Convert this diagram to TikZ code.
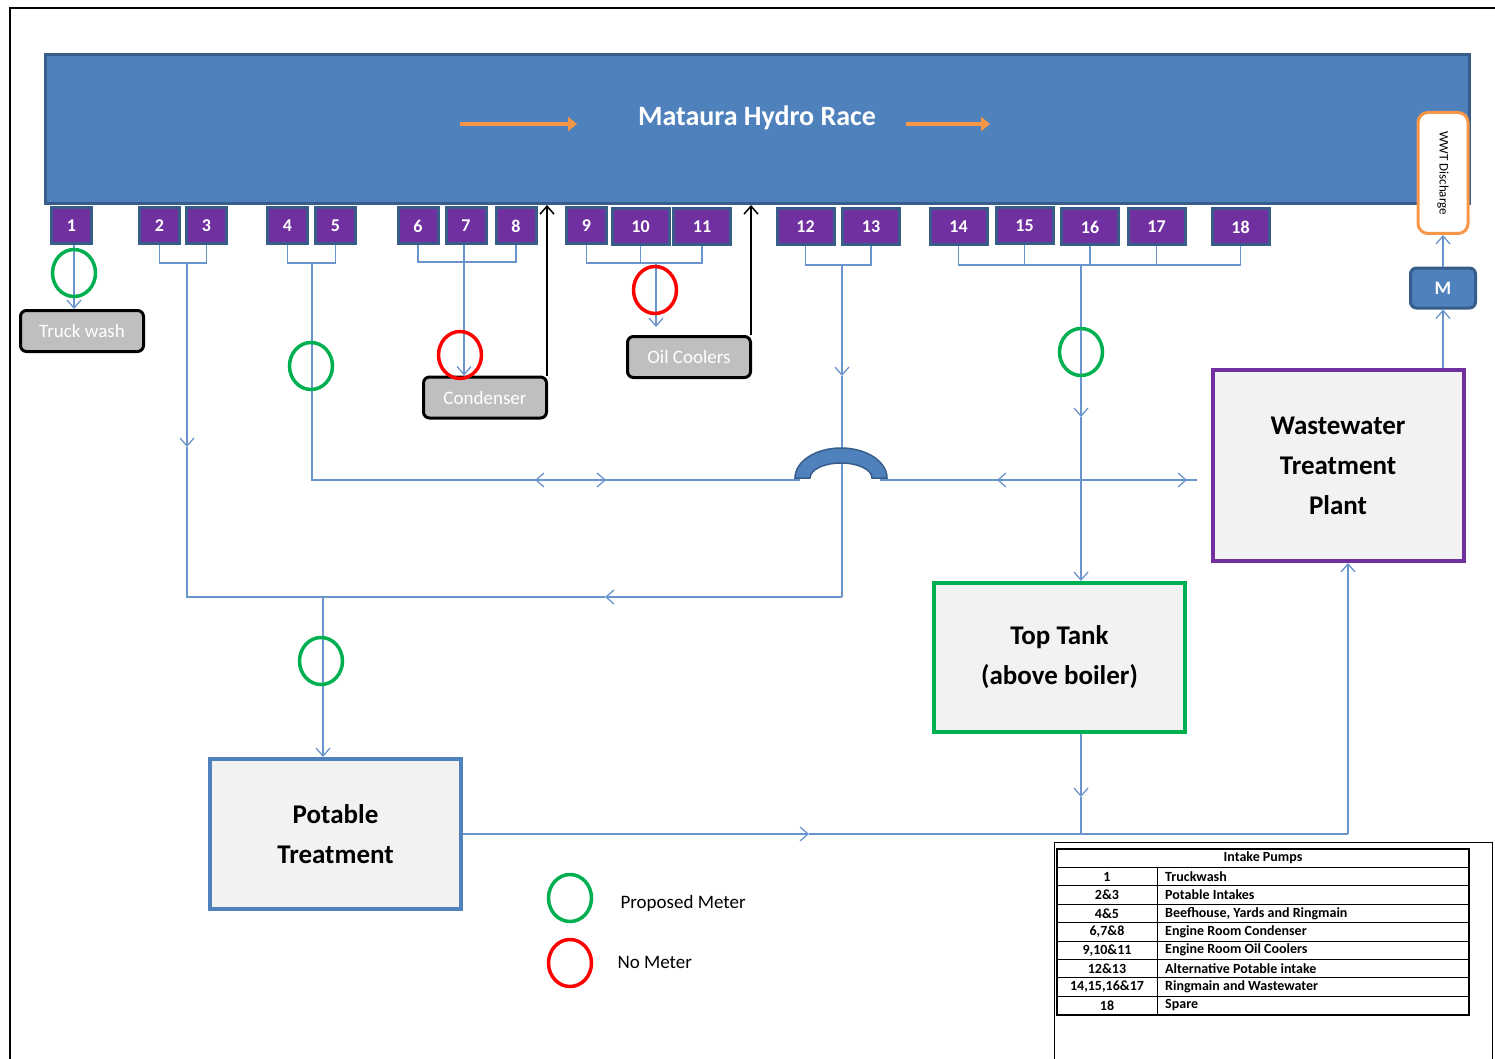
\documentclass[tikz,border=0pt]{standalone}
\usepackage{fontspec}
\setmainfont{Carlito}
\usetikzlibrary{arrows.meta,positioning,shapes.geometric}

\definecolor{raceblue}{HTML}{4F81BD}
\definecolor{racedark}{HTML}{385D8A}
\definecolor{pumppurple}{HTML}{7030A0}
\definecolor{metergreen}{HTML}{00B050}
\definecolor{meterred}{HTML}{FF0000}
\definecolor{raceorange}{HTML}{F79646}
\definecolor{unitgrey}{HTML}{BFBFBF}
\definecolor{plantfill}{HTML}{F2F2F2}
\definecolor{pipeblue}{HTML}{6A95CC}

\tikzset{
  pump/.style={fill=pumppurple,draw=racedark,line width=3pt,minimum width=40pt,minimum height=36pt,inner sep=0pt,text=white,font=\fontsize{18}{18}\selectfont\bfseries},
  widepump/.style={pump,minimum width=57pt},
  pipe/.style={draw=pipeblue,line width=1.3pt},
  ret/.style={draw=black,line width=1.5pt},
  meter/.style={draw=#1,line width=3.5pt,shape=ellipse,minimum width=43pt,minimum height=47pt,inner sep=0pt},
  unit/.style={fill=unitgrey,draw=black,line width=3pt,rounded corners=6pt,minimum width=123pt,minimum height=41pt,text=white,font=\fontsize{19}{19}\selectfont},
  plant/.style={fill=plantfill,draw=#1,line width=4pt,minimum width=251pt,align=center,font=\fontsize{27}{40}\selectfont\bfseries},
  flow/.style={draw=raceorange,line width=4pt,-{Triangle[length=9pt,width=14pt]}},
  cell/.style={font=\fontsize{14}{14}\selectfont\bfseries,inner sep=0pt}
}

\begin{document}
\begin{tikzpicture}[x=1pt,y=-1pt,>={Straight Barb[length=8pt,width=14pt]}]
\useasboundingbox (0,0) rectangle (1495,1059);
\draw[line width=2pt] (10,1059) -- (10,8) -- (1495,8);

% the race
\node[fill=raceblue,draw=racedark,line width=3pt,minimum width=1424pt,minimum height=149pt,inner sep=0pt](race) at (757.5,129){};
\node[text=white,font=\fontsize{28}{28}\selectfont\bfseries](title) at (757,118){Mataura Hydro Race};
\coordinate (f1) at (460,124);
\coordinate (f2) at (577,124);
\coordinate (f3) at (906,124);
\coordinate (f4) at (990,124);
\draw[flow] (f1) -- (f2);
\draw[flow] (f3) -- (f4);

% intake pumps
\node[pump](p1) at (71.5,226){1};
\node[pump](p2) at (159.5,226){2};
\node[pump](p3) at (206.5,226){3};
\node[pump](p4) at (287.5,226){4};
\node[pump](p5) at (335.5,226){5};
\node[pump](p6) at (418,226){6};
\node[pump](p7) at (466,226){7};
\node[pump](p8) at (516,226){8};
\node[pump](p9) at (586.5,226){9};
\node[widepump](p10) at (640.5,227){10};
\node[widepump](p11) at (702,227){11};
\node[widepump](p12) at (805.5,227){12};
\node[widepump](p13) at (871,227){13};
\node[widepump](p14) at (958.5,227){14};
\node[widepump](p15) at (1024.5,226){15};
\node[widepump](p16) at (1090,227){16};
\node[widepump](p17) at (1156.5,227){17};
\node[widepump](p18) at (1240.5,227){18};

% users
\node[unit](truck) at (82,331){Truck wash};
\node[unit](cond) at (485,397.5){Condenser};
\node[unit](oil) at (689,357){Oil Coolers};
\node[plant=pumppurple,minimum height=191pt](wwtp) at (1338,465.5){Wastewater\\Treatment\\Plant};
\node[plant=metergreen,minimum height=149pt](tank) at (1059.5,657.5){Top Tank\\(above boiler)};
\node[plant=raceblue,minimum height=150pt](potable) at (335.5,834){Potable\\Treatment};
\node[fill=raceblue,draw=racedark,line width=3pt,rounded corners=6pt,minimum width=65pt,minimum height=40pt,text=white,font=\fontsize{19}{19}\selectfont\bfseries](mbox) at (1443,288){M};
\node[fill=white,draw=raceorange,line width=3pt,rounded corners=10pt,minimum width=50pt,minimum height=121pt](wwt) at (1443,173){};
\node[rotate=-90,font=\fontsize{13}{13}\selectfont](wwtlabel) at (wwt){WWT Discharge};

% junctions
\coordinate (j1) at (74,245);
\coordinate (j23) at (187,263);
\coordinate (a23) at (187,447);
\coordinate (c23) at (187,597);
\coordinate (jpot) at (323,597);
\coordinate (a597) at (605,597);
\coordinate (j45) at (312,263);
\coordinate (c45) at (312,480);
\coordinate (b1) at (800,480);
\coordinate (b2) at (880,480);
\coordinate (e45) at (1197,480);
\coordinate (d1) at (535,480);
\coordinate (d2) at (606,480);
\coordinate (d3) at (997,480);
\coordinate (d4) at (1187,480);
\coordinate (j678) at (464,262);
\coordinate (j911) at (656,263);
\coordinate (a911) at (656,327);
\coordinate (j1213) at (842,265);
\coordinate (a1213) at (842,376);
\coordinate (c1213) at (842,597);
\coordinate (j1418) at (1081,265);
\coordinate (a1418) at (1081,417);
\coordinate (atank) at (1081,797);
\coordinate (jtank) at (1081,834);
\coordinate (apot) at (809,834);
\coordinate (cwwtp) at (1348,834);

% pipework
\draw[pipe,->] (j1) -- (j1 |- truck.north);
\draw[pipe] (p2.south) |- (j23) -| (p3.south);
\draw[pipe,->] (j23) -- (a23);
\draw[pipe] (a23) -- (c23) -- (jpot);
\draw[pipe,->] (c1213) -- (a597);
\draw[pipe] (a597) -- (jpot);
\draw[pipe,->] (jpot) -- (jpot |- potable.north);
\draw[pipe] (p4.south) |- (j45) -| (p5.south);
\draw[pipe] (j45) -- (c45) -- (b1);
\draw[pipe] (b2) -- (e45);
\draw[pipe,<->] (d1) -- (d2);
\draw[pipe,<->] (d3) -- (d4);
\draw[pipe] (p6.south) |- (j678) -| (p8.south);
\draw[pipe,->] (j678 |- p7.south) -- (j678 |- cond.north);
\draw[pipe] (p9.south) |- (j911) -| (p11.south);
\draw[pipe] (p10.south) -- (p10.south |- j911);
\draw[pipe,->] (j911) -- (a911);
\draw[pipe] (p12.south) |- (j1213) -| (p13.south);
\draw[pipe,->] (j1213) -- (a1213);
\draw[pipe] (a1213) -- (c1213);
\draw[pipe] (p14.south) |- (j1418) -| (p18.south);
\draw[pipe] (p15.south) -- (p15.south |- j1418);
\draw[pipe] (p16.south) -- (p16.south |- j1418);
\draw[pipe] (p17.south) -- (p17.south |- j1418);
\draw[pipe,->] (j1418) -- (a1418);
\draw[pipe,->] (a1418) -- (a1418 |- tank.north);
\draw[pipe,->] (a1418 |- tank.south) -- (atank);
\draw[pipe] (atank) -- (jtank);
\draw[pipe,->] (potable.east) -- (apot);
\draw[pipe] (apot) -- (cwwtp);
\draw[pipe,->] (cwwtp) -- (cwwtp |- wwtp.south);
\draw[pipe,->] (mbox.south |- wwtp.north) -- (mbox.south);
\draw[pipe,->] (mbox.north) -- (wwt.south);

% returns to the race
\draw[ret,->] ([xshift=-1pt]cond.north east) -- ([xshift=-1pt]cond.north east |- race.south);
\draw[ret,->] ([xshift=-1pt]oil.north east) -- ([xshift=-1pt]oil.north east |- race.south);

% crossover
\filldraw[fill=raceblue,draw=racedark,line width=1.5pt] (795,478) arc[start angle=180,end angle=360,x radius=46,y radius=30] -- (872,478) arc[start angle=0,end angle=-180,x radius=31,y radius=15] -- cycle;

% meters
\node[meter=metergreen](m1) at (74,273){};
\node[meter=metergreen](m45) at (311,366){};
\node[meter=meterred](m678) at (460,355){};
\node[meter=meterred](m911) at (655,290){};
\node[meter=metergreen](m1418) at (1081,352){};
\node[meter=metergreen](mpot) at (321,661){};

% legend
\node[meter=metergreen](keyg) at (570,898){};
\node[meter=meterred](keyr) at (570,963){};
\node[anchor=west,font=\fontsize{19}{19}\selectfont](keygt) at (617,903){Proposed Meter};
\node[anchor=west,font=\fontsize{19}{19}\selectfont](keyrt) at (614,962){No Meter};

% intake pump table
\draw[line width=1pt] (1054,1059) -- (1054,842) -- (1492,842) -- (1492,1059);
\draw[line width=1.2pt] (1057,849) rectangle (1469,1015);
\foreach \i in {1,...,8}
  \draw[line width=1pt] (1057,849+18.4*\i) -- (1469,849+18.4*\i);
\draw[line width=1pt] (1157,867.4) -- (1157,1015);
\node[cell](th) at (1263,858){Intake Pumps};
\node[cell](n1) at (1107,876.6){1};
\node[cell](n2) at (1107,895){2\&3};
\node[cell](n3) at (1107,913.4){4\&5};
\node[cell](n4) at (1107,931.8){6,7\&8};
\node[cell](n5) at (1107,950.2){9,10\&11};
\node[cell](n6) at (1107,968.6){12\&13};
\node[cell](n7) at (1107,987){14,15,16\&17};
\node[cell](n8) at (1107,1005.4){18};
\node[cell,anchor=west](u1) at (1165,876.6){Truckwash};
\node[cell,anchor=west](u2) at (1165,895){Potable Intakes};
\node[cell,anchor=west](u3) at (1165,913.4){Beefhouse, Yards and Ringmain};
\node[cell,anchor=west](u4) at (1165,931.8){Engine Room Condenser};
\node[cell,anchor=west](u5) at (1165,950.2){Engine Room Oil Coolers};
\node[cell,anchor=west](u6) at (1165,968.6){Alternative Potable intake};
\node[cell,anchor=west](u7) at (1165,987){Ringmain and Wastewater};
\node[cell,anchor=west](u8) at (1165,1005.4){Spare};
\end{tikzpicture}
\end{document}
